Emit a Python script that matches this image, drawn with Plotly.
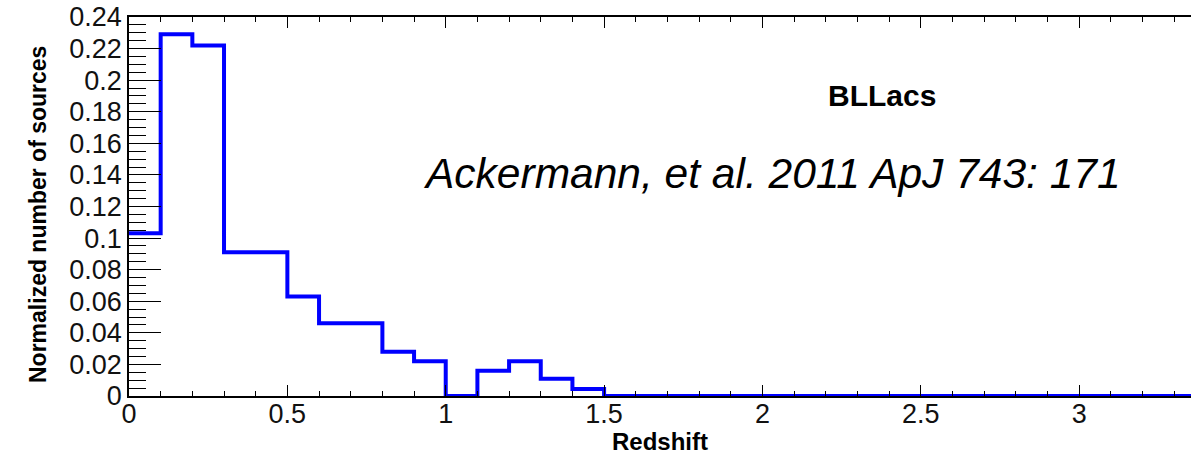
import plotly.graph_objects as go

# Redshift histogram of BL Lac sources (normalized counts per bin)
bin_edges = [0.0, 0.1, 0.2, 0.3, 0.5, 0.6, 0.8, 0.9, 1.0, 1.1, 1.2, 1.3, 1.4, 1.5, 3.4]
bin_values = [0.103, 0.229, 0.222, 0.091, 0.063, 0.046, 0.028, 0.022, 0.0,
              0.016, 0.022, 0.011, 0.0045, 0.0]

x_tick_vals = [0, 0.5, 1, 1.5, 2, 2.5, 3]
x_tick_text = ["0", "0.5", "1", "1.5", "2", "2.5", "3"]
y_tick_vals = [0, 0.02, 0.04, 0.06, 0.08, 0.1, 0.12, 0.14, 0.16, 0.18, 0.2, 0.22, 0.24]
y_tick_text = ["0", "0.02", "0.04", "0.06", "0.08", "0.1", "0.12", "0.14",
               "0.16", "0.18", "0.2", "0.22", "0.24"]

FONT = "Liberation Sans, Arial, Helvetica, sans-serif"

fig = go.Figure()
fig.add_trace(go.Scatter(
    x=bin_edges,
    y=bin_values + [bin_values[-1]],
    mode="lines",
    line=dict(color="#0000ff", width=4, shape="hv"),
    showlegend=False,
    hoverinfo="skip",
))

fig.update_layout(
    width=1191, height=455,
    margin=dict(l=129, r=0, t=17, b=59),
    paper_bgcolor="white", plot_bgcolor="white",
    font=dict(family=FONT, color="black"),
    xaxis=dict(
        range=[0, 3.353],
        tickvals=x_tick_vals, ticktext=x_tick_text,
        ticks="inside", ticklen=11, tickwidth=1, tickcolor="black",
        minor=dict(dtick=0.1, tick0=0, ticks="inside", ticklen=5,
                   tickwidth=1, tickcolor="black", showgrid=False),
        showline=True, linecolor="black", linewidth=1.5, mirror="ticks",
        showgrid=False, zeroline=False,
        tickfont=dict(size=27, family=FONT, color="#111"),
        ticklabelstandoff=-7,
        title=dict(text="<b>Redshift</b>", font=dict(size=24, family=FONT),
                   standoff=10),
        automargin=False,
    ),
    yaxis=dict(
        range=[0, 0.24],
        tickvals=y_tick_vals, ticktext=y_tick_text,
        ticks="inside", ticklen=32, tickwidth=1, tickcolor="black",
        minor=dict(dtick=0.005, tick0=0, ticks="inside", ticklen=17,
                   tickwidth=1, tickcolor="black", showgrid=False),
        showline=True, linecolor="black", linewidth=1.5, mirror=False,
        showgrid=False, zeroline=False,
        tickfont=dict(size=27, family=FONT, color="#111"),
        automargin=False,
    ),
    yaxis2=dict(
        range=[0, 0.24], overlaying="y", side="right",
        tickvals=y_tick_vals, showticklabels=False,
        ticks="inside", ticklen=21, tickwidth=1, tickcolor="black",
        minor=dict(dtick=0.005, tick0=0, ticks="inside", ticklen=4,
                   tickwidth=1, tickcolor="black", showgrid=False),
        showline=False, showgrid=False, zeroline=False,
    ),
    annotations=[
        # vertical axis title, placed by hand next to the tick labels
        dict(x=23, y=215, xref="paper", yref="paper", text="<b>Normalized number of sources</b>",
             textangle=-90, showarrow=False,
             font=dict(size=23, family=FONT, color="black")),
        dict(x=2.377, y=0.19, xref="x", yref="y", text="<b>BLLacs</b>",
             showarrow=False, font=dict(size=30, family=FONT, color="black")),
        dict(x=2.031, y=0.141, xref="x", yref="y",
             text="<i>Ackermann, et al. 2011 ApJ 743: 171</i>",
             showarrow=False, font=dict(size=42.5, family=FONT, color="black")),
    ],
)

# convert the pixel position of the vertical title into paper coordinates
plot_w = 1191 - 129
plot_h = 455 - 17 - 59
ann = fig.layout.annotations[0]
ann.x = (23 - 129) / plot_w
ann.y = (455 - 59 - 215) / plot_h

fig.write_html("out.html")
